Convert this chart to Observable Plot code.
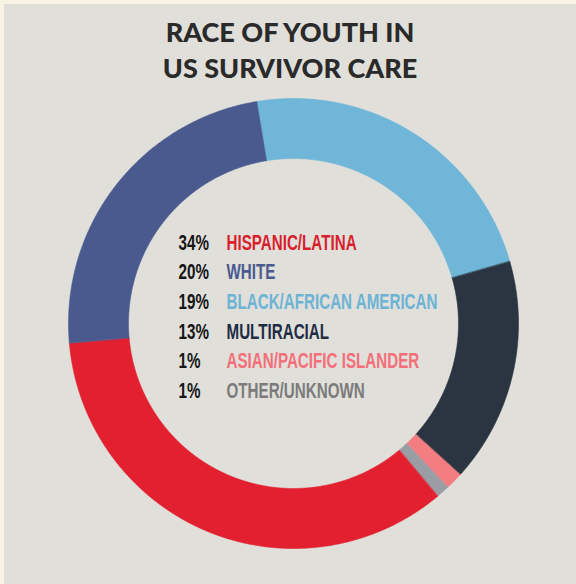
<!DOCTYPE html>
<html><head><meta charset="utf-8">
<script src="https://cdn.jsdelivr.net/npm/d3@7"></script>
<script src="https://cdn.jsdelivr.net/npm/@observablehq/plot@0.6"></script>
<style>
html,body{margin:0;padding:0;background:#f8f3e4;width:576px;height:584px;overflow:hidden;}
#card{position:absolute;left:4px;top:4px;width:572px;height:580px;background:#e0dfda;overflow:hidden;}
#title{box-sizing:border-box;margin:0;padding-top:10px;height:91px;font-family:Lato,"Open Sans",sans-serif;font-weight:900;font-size:27px;line-height:36px;color:#2a2a2a;text-align:center;}
#chart svg{display:block;}
</style></head><body>
<div id="card"><div id="title">RACE OF YOUTH IN<br>US SURVIVOR CARE</div><div id="chart"></div></div>
<script>
// Ring segments, clockwise from just left of 12 o'clock (share of ring as drawn)
const groups = ["Black/African American","Multiracial","Asian/Pacific Islander","Other/Unknown","Hispanic/Latina","White"];
const arcShare = [23.2, 16.2, 1.25, 0.95, 34.75, 23.8];
const ringColors = ["#6fb6d8","#2b3441","#f47d82","#9a9ea4","#e2202f","#4a5a8e"];

// Legend inside the ring
const legendPct = ["34%","20%","19%","13%","1%","1%"];
const legendLabel = ["HISPANIC/LATINA","WHITE","BLACK/AFRICAN AMERICAN","MULTIRACIAL","ASIAN/PACIFIC ISLANDER","OTHER/UNKNOWN"];
const legendColors = ["#d91f2e","#4a5a8e","#6cb3d4","#1f2d44","#f46f79","#7b7b7b"];

const W = 572, H = 489, CX = 289, CY = 228;
const R_OUT = 225, R_IN = 165;
const START = -9.4 * Math.PI / 180;
const SX = 0.69;

const pie = d3.pie().sort(null).value(d => d.share).startAngle(START).endAngle(START + 2 * Math.PI);
const arcs = pie(groups.map((g, i) => ({key: g, share: arcShare[i], color: ringColors[i]})));

const pts = [];
for (const a of arcs) {
  const n = Math.max(4, Math.ceil((a.endAngle - a.startAngle) / (0.4 * Math.PI / 180)));
  for (let k = 0; k <= n; k++) {
    const t = a.startAngle + (a.endAngle - a.startAngle) * k / n;
    pts.push({key: a.data.key, color: a.data.color, x: R_OUT * Math.sin(t), y: -R_OUT * Math.cos(t)});
  }
  for (let k = n; k >= 0; k--) {
    const t = a.startAngle + (a.endAngle - a.startAngle) * k / n;
    pts.push({key: a.data.key, color: a.data.color, x: R_IN * Math.sin(t), y: -R_IN * Math.cos(t)});
  }
}

const legendTop = -81, rowStep = 29.7, pctX = -115, labelX = -67;
const legend = legendPct.map((p, i) => ({p, l: legendLabel[i], c: legendColors[i], y: legendTop + i * rowStep}));

const font = {fontFamily: "Liberation Sans, Arial, sans-serif", fontWeight: "bold", fontSize: 22, textAnchor: "start", lineAnchor: "middle"};

const chart = Plot.plot({
  width: W, height: H, margin: 0,
  x: {domain: [-CX, W - CX], range: [0, W], axis: null},
  y: {domain: [-CY, H - CY], range: [0, H], axis: null},
  color: {type: "identity"},
  style: {background: "transparent"},
  marks: [
    Plot.line(pts, {x: "x", y: "y", z: "key", fill: "color", stroke: "color", strokeWidth: 0.6, curve: "linear-closed"}),
    Plot.text(legend, {x: () => pctX, y: "y", text: "p", fill: "#151515", ...font}),
    Plot.text(legend, {x: () => labelX, y: "y", text: "l", fill: "c", ...font})
  ]
});
document.getElementById("chart").appendChild(chart);

// condense legend glyphs horizontally (narrow display lettering)
chart.querySelectorAll("text").forEach(el => {
  const xa = el.getAttribute("x");
  if (xa !== null && /^-?[\d.]+$/.test(xa)) el.setAttribute("x", +xa / SX);
  const tr = el.getAttribute("transform") || "";
  el.setAttribute("transform", `${tr} scale(${SX},1)`);
});
</script>
</body></html>
